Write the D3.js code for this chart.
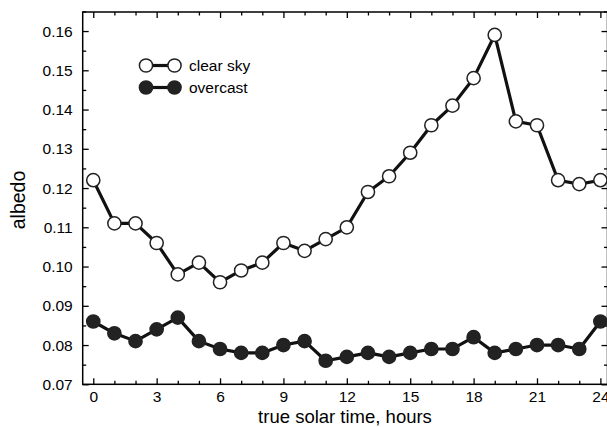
<!DOCTYPE html>
<html><head><meta charset="utf-8">
<script src="https://cdn.jsdelivr.net/npm/d3@7"></script>
<style>html,body{margin:0;padding:0;background:#fff;}svg{display:block;font-family:"Liberation Sans",Arial,sans-serif;}</style>
</head><body>
<script>
const hours = [0,1,2,3,4,5,6,7,8,9,10,11,12,13,14,15,16,17,18,19,20,21,22,23,24];
const clearSky = [0.122,0.111,0.111,0.106,0.098,0.101,0.096,0.099,0.101,0.106,0.104,0.107,0.110,0.119,0.123,0.129,0.136,0.141,0.148,0.159,0.137,0.136,0.122,0.121,0.122];
const overcast = [0.086,0.083,0.081,0.084,0.087,0.081,0.079,0.078,0.078,0.080,0.081,0.076,0.077,0.078,0.077,0.078,0.079,0.079,0.082,0.078,0.079,0.080,0.080,0.079,0.086];
const xTicks = [0,3,6,9,12,15,18,21,24];
const yTicks = [0.07,0.08,0.09,0.10,0.11,0.12,0.13,0.14,0.15,0.16];
const seriesNames = ["clear sky","overcast"];

const W=607,H=427;
const L=82.7,T=12,R=607.5,B=384.3;
const x=d3.scaleLinear().domain([-0.5,24.35]).range([L,L+(24.85)*21.13]);
const y=d3.scaleLinear().domain([0.07,0.16]).range([B,B-9*39.25]);

const svg=d3.select("body").append("svg").attr("width",W).attr("height",H);

const minorX=d3.range(0,25,1);
const minorY=d3.range(0.07,0.1651,0.005).map(v=>+v.toFixed(3));

svg.append("g").attr("transform",`translate(0,${B})`).call(d3.axisBottom(x).tickValues(xTicks).tickSize(-6).tickPadding(7).tickFormat(d3.format("d")));
svg.append("g").attr("transform",`translate(0,${B})`).call(d3.axisBottom(x).tickValues(minorX.filter(v=>v%3)).tickSize(-3.5).tickFormat(""));
svg.append("g").attr("transform",`translate(0,${T})`).call(d3.axisTop(x).tickValues(xTicks).tickSize(-6).tickFormat(""));
svg.append("g").attr("transform",`translate(0,${T})`).call(d3.axisTop(x).tickValues(minorX.filter(v=>v%3)).tickSize(-3.5).tickFormat(""));
svg.append("g").attr("transform",`translate(${L},0)`).call(d3.axisLeft(y).tickValues(yTicks).tickSize(-6).tickPadding(10).tickFormat(d3.format(".2f")));
svg.append("g").attr("transform",`translate(${L},0)`).call(d3.axisLeft(y).tickValues(minorY.filter((v,i)=>i%2)).tickSize(-3.5).tickFormat(""));
svg.append("g").attr("transform",`translate(${R},0)`).call(d3.axisRight(y).tickValues(yTicks).tickSize(-6).tickFormat(""));
svg.append("g").attr("transform",`translate(${R},0)`).call(d3.axisRight(y).tickValues(minorY.filter((v,i)=>i%2)).tickSize(-3.5).tickFormat(""));
svg.selectAll(".domain").remove();
svg.selectAll(".tick line").attr("stroke","#000").attr("stroke-width",1.3);
svg.selectAll(".tick text").attr("fill","#000").style("font-size","15.5px").style("font-family","'Liberation Sans',Arial,sans-serif");

svg.append("rect").attr("x",L).attr("y",T).attr("width",R-L).attr("height",B-T)
  .attr("fill","none").attr("stroke","#000").attr("stroke-width",1.5);

const line=d3.line().x((d,i)=>x(hours[i])).y(d=>y(d));
[[clearSky,"#fff"],[overcast,"#222"]].forEach(([data,fill])=>{
  svg.append("path").datum(data).attr("d",line).attr("fill","none").attr("stroke","#111").attr("stroke-width",3.2).attr("stroke-linejoin","round");
  svg.append("g").selectAll("circle").data(data).join("circle")
    .attr("cx",(d,i)=>x(hours[i])).attr("cy",d=>y(d)).attr("r",6.6)
    .attr("fill",fill).attr("stroke","#222").attr("stroke-width",1.5);
});

const leg=[{name:seriesNames[0],fill:"#fff",cy:65.5},{name:seriesNames[1],fill:"#222",cy:87.5}];
leg.forEach(l=>{
  const g=svg.append("g");
  g.append("line").attr("x1",146).attr("x2",174.5).attr("y1",l.cy).attr("y2",l.cy).attr("stroke","#111").attr("stroke-width",3.2);
  [146,174.5].forEach(cx=>g.append("circle").attr("cx",cx).attr("cy",l.cy).attr("r",6.6).attr("fill",l.fill).attr("stroke","#222").attr("stroke-width",1.5));
  g.append("text").attr("x",189).attr("y",l.cy+5.5).text(l.name).style("font-size","15.5px").attr("fill","#000");
});

svg.append("text").attr("x",345).attr("y",422.5).attr("text-anchor","middle").style("font-size","18.5px").text("true solar time, hours");
svg.append("text").attr("transform","translate(25,200) rotate(-90)").attr("text-anchor","middle").style("font-size","19.5px").text("albedo");
</script>
</body></html>
